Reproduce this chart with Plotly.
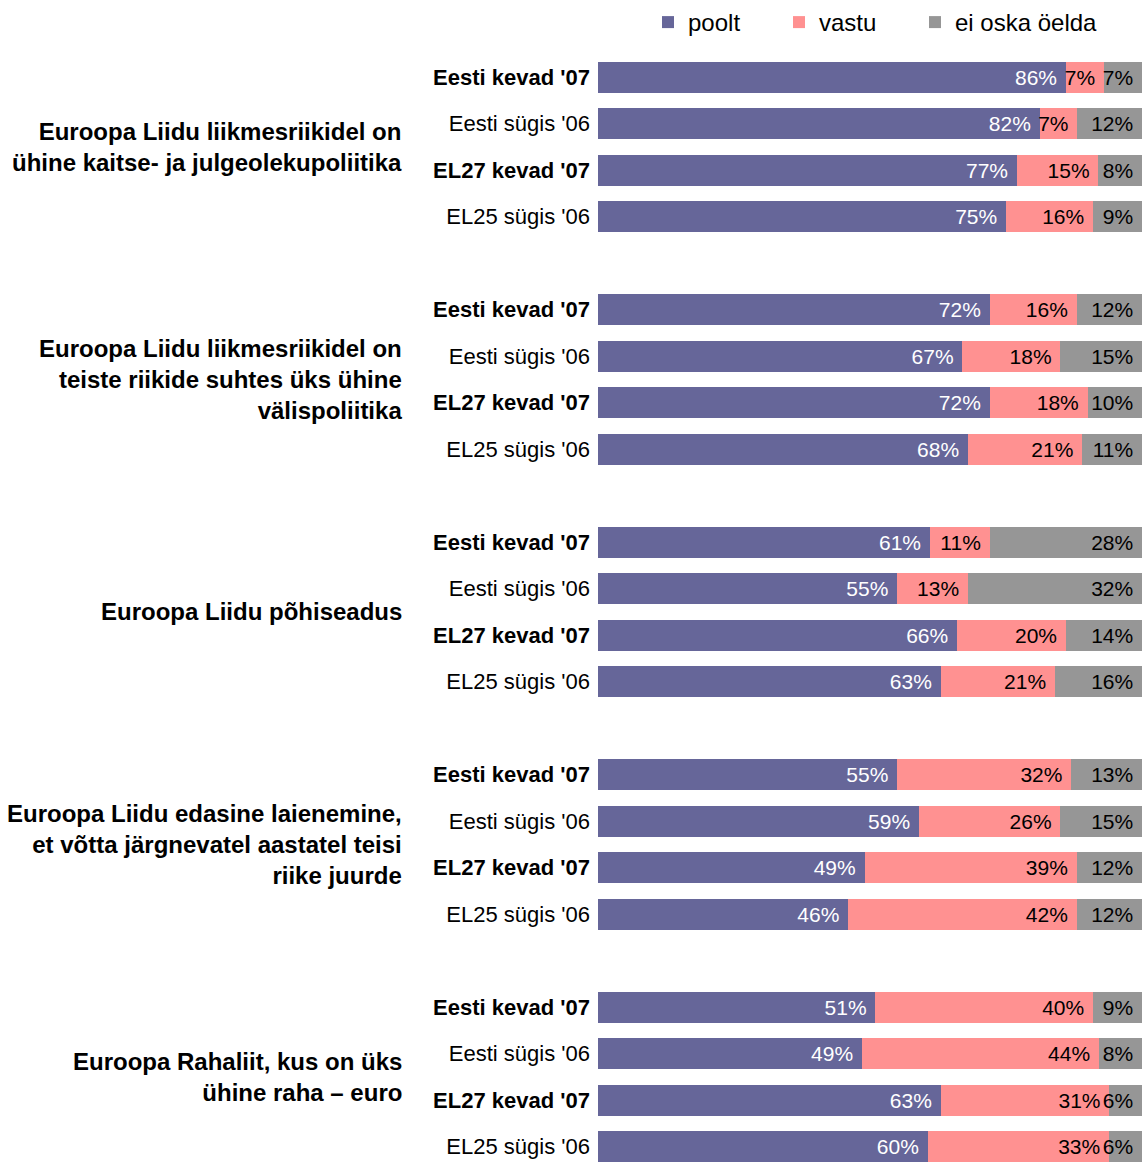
import plotly.graph_objects as go

groups = [
    "Euroopa Liidu liikmesriikidel on<br>ühine kaitse- ja julgeolekupoliitika",
    "Euroopa Liidu liikmesriikidel on<br>teiste riikide suhtes üks ühine<br>välispoliitika",
    "Euroopa Liidu põhiseadus",
    "Euroopa Liidu edasine laienemine,<br>et võtta järgnevatel aastatel teisi<br>riike juurde",
    "Euroopa Rahaliit, kus on üks<br>ühine raha – euro",
]
rows = ["Eesti kevad '07", "Eesti sügis '06", "EL27 kevad '07", "EL25 sügis '06"]
bold_rows = [True, False, True, False]

poolt = [86, 82, 77, 75,
         72, 67, 72, 68,
         61, 55, 66, 63,
         55, 59, 49, 46,
         51, 49, 63, 60]
vastu = [7, 7, 15, 16,
         16, 18, 18, 21,
         11, 13, 20, 21,
         32, 26, 39, 42,
         40, 44, 31, 33]
ei_oska = [7, 12, 8, 9,
           12, 15, 10, 11,
           28, 32, 14, 16,
           13, 15, 12, 12,
           9, 8, 6, 6]

series_names = ["poolt", "vastu", "ei oska öelda"]
colors = ["#666699", "#FF9191", "#969696"]
text_colors = ["white", "black", "black"]
legend_ids = ["legend", "legend2", "legend3"]
legend_x = [648, 779, 915]

FONT = "Liberation Sans, Arial, sans-serif"
FS = 21

ypos = []
ticktext = []
for g in range(len(groups)):
    for r in range(len(rows)):
        ypos.append(g * 5 + r)
        ticktext.append(f"<b>{rows[r]}</b>" if bold_rows[r] else rows[r])

fig = go.Figure()
for name, vals, col, tc, lid in zip(series_names, [poolt, vastu, ei_oska], colors, text_colors, legend_ids):
    fig.add_trace(go.Bar(
        y=ypos, x=vals, orientation="h", name=name, legend=lid,
        marker=dict(color=col, line=dict(width=0)),
        text=[f"{v}%\u00a0" for v in vals],
        textposition="inside", insidetextanchor="end",
        textfont=dict(color=tc, size=FS, family=FONT),
        hoverinfo="skip",
    ))

for g, label in enumerate(groups):
    fig.add_annotation(
        xref="paper", yref="y", x=(404 - 598) / 544, y=g * 5 + 1.5,
        text=f"<b>{label}</b>", showarrow=False, xanchor="right", yanchor="middle",
        align="right", font=dict(size=24, family=FONT, color="black"),
    )

legend_common = dict(orientation="h", xref="container", yref="container",
                     y=1.0, xanchor="left", yanchor="top",
                     font=dict(size=24, family=FONT), bgcolor="rgba(0,0,0,0)")
fig.update_layout(
    width=1143, height=1162,
    barmode="stack", barnorm="percent", bargap=0.333,
    margin=dict(l=598, r=1, t=54, b=0),
    paper_bgcolor="white", plot_bgcolor="white",
    font=dict(family=FONT, size=FS, color="black"),
    uniformtext=dict(minsize=FS, mode="show"),
    showlegend=True,
    legend=dict(x=legend_x[0] / 1143, **legend_common),
    legend2=dict(x=legend_x[1] / 1143, **legend_common),
    legend3=dict(x=legend_x[2] / 1143, **legend_common),
)
fig.update_xaxes(range=[0, 100], visible=False, fixedrange=True)
fig.update_yaxes(range=[23.333, -0.5], tickvals=ypos, ticktext=ticktext,
                 showgrid=False, zeroline=False, showline=False, ticks="",
                 ticklabelstandoff=7, fixedrange=True,
                 tickfont=dict(size=22, family=FONT, color="black"))

fig.write_html("out.html", config={"displayModeBar": False},
               post_script="document.body.style.margin='0';document.body.style.padding='0';window.dispatchEvent(new Event('resize'));")
